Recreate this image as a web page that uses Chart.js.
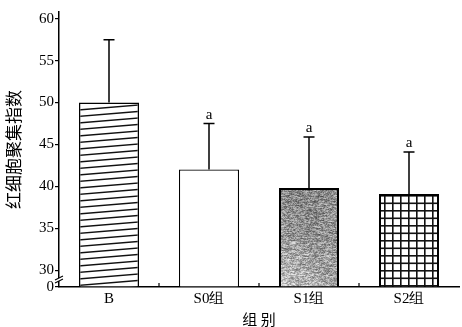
<!DOCTYPE html>
<html>
<head>
<meta charset="utf-8">
<script src="https://cdn.jsdelivr.net/npm/chart.js@4.4.1/dist/chart.umd.min.js"></script>
<style>
  html, body { margin: 0; padding: 0; background: #fff; }
  #wrap { width: 462px; height: 327px; }
</style>
</head>
<body>
<div id="wrap"><canvas id="c" width="462" height="327"></canvas></div>
<script>
// Groups and red-cell aggregation index (mean and upper error)
const groups = ['B', 'S0组', 'S1组', 'S2组'];
const meanValues = [50.0, 42.0, 39.8, 39.1];
const errorTops = [57.5, 47.5, 45.9, 44.1];
const markers = ['', 'a', 'a', 'a'];

// Broken y axis: the bottom tick stands for 0, the rest run 30..60
const yTickValues = [28, 30, 35, 40, 45, 50, 55, 60];
const yTickLabels = ['0', '30', '35', '40', '45', '50', '55', '60'];
const Y_MIN = 28;
const Y_MAX = 60.8;

const serif = '"Liberation Serif", "DejaVu Serif", serif';
const cjk = '"Noto Sans CJK SC", sans-serif';

// ---- fill patterns ----
function hatchPattern() {
  const c = document.createElement('canvas');
  c.width = 72; c.height = 13;
  const g = c.getContext('2d');
  g.fillStyle = '#fff'; g.fillRect(0, 0, 72, 13);
  g.strokeStyle = '#111'; g.lineWidth = 1.3;
  for (let k = -2; k <= 3; k++) {
    const y0 = 13 - k * 6.5;
    g.beginPath(); g.moveTo(0, y0); g.lineTo(72, y0 - 6); g.stroke();
  }
  return g.createPattern(c, 'repeat');
}

function gridPattern() {
  const c = document.createElement('canvas');
  c.width = 8; c.height = 15;
  const g = c.getContext('2d');
  g.fillStyle = '#fff'; g.fillRect(0, 0, 8, 15);
  g.fillStyle = '#111';
  g.fillRect(0, 0, 1.6, 15);
  g.fillRect(0, 0, 8, 1.6);
  g.fillRect(0, 7.5, 8, 1.6);
  return g.createPattern(c, 'repeat');
}

// grainy grey screen: mid grey, a little lighter towards the lower left
function stipplePattern() {
  const W = 462, H = 327;
  const c = document.createElement('canvas');
  c.width = W; c.height = H;
  const g = c.getContext('2d');
  const img = g.createImageData(W, H);
  let s = 12345;
  function rnd() { s = (s * 1103515245 + 12345) & 0x7fffffff; return s / 0x7fffffff; }
  let row = new Float32Array(W);
  for (let y = 0; y < H; y++) {
    const t = Math.min(1, Math.max(0, (y - 190) / 100));
    for (let x = 0; x < W; x++) {
      const lx = Math.min(1, Math.max(0, (x - 279) / 60));
      // streaky grain: blend with the pixel to the left
      const grain = (rnd() - 0.5) * 150;
      const prev = x > 0 ? row[x - 1] : grain;
      const n = 0.55 * grain + 0.45 * prev;
      row[x] = n;
      const base = 148 + 55 * t * t * (1 - 0.7 * lx) - 15 * Math.sin(lx * Math.PI) * (1 - t);
      const v = Math.max(20, Math.min(250, base + n));
      const i = (y * W + x) * 4;
      img.data[i] = img.data[i + 1] = img.data[i + 2] = v;
      img.data[i + 3] = 255;
    }
  }
  g.putImageData(img, 0, 0);
  return g.createPattern(c, 'repeat');
}

const fills = [hatchPattern(), '#ffffff', stipplePattern(), gridPattern()];

// ---- error whiskers, significance marks, axis break, inner x ticks ----
const decor = {
  id: 'decor',
  afterDatasetsDraw(chart) {
    const { ctx, scales: { x, y }, chartArea } = chart;
    ctx.save();
    ctx.strokeStyle = '#000';
    ctx.lineWidth = 1.5;
    groups.forEach((_, i) => {
      const px = x.getPixelForValue(i);
      const yTop = y.getPixelForValue(errorTops[i]);
      const yMean = y.getPixelForValue(meanValues[i]);
      ctx.beginPath();
      ctx.moveTo(px, yMean); ctx.lineTo(px, yTop);
      ctx.moveTo(px - 5.5, yTop); ctx.lineTo(px + 5.5, yTop);
      ctx.stroke();
      if (markers[i]) {
        ctx.fillStyle = '#000';
        ctx.font = '15px ' + serif;
        ctx.textAlign = 'center';
        ctx.textBaseline = 'alphabetic';
        ctx.fillText(markers[i], px, yTop - 5);
      }
    });
    // small upward ticks between categories
    ctx.lineWidth = 1.2;
    for (let i = 1; i < groups.length; i++) {
      const px = (x.getPixelForValue(i - 1) + x.getPixelForValue(i)) / 2;
      ctx.beginPath();
      ctx.moveTo(px, chartArea.bottom); ctx.lineTo(px, chartArea.bottom - 4);
      ctx.stroke();
    }
    // break marks on the y axis
    const ax = chartArea.left;
    const yb = chartArea.bottom - 7;
    ctx.fillStyle = '#fff';
    ctx.fillRect(ax - 2, yb - 2, 4, 3);
    ctx.lineWidth = 1.1;
    ctx.beginPath();
    ctx.moveTo(ax - 4, yb); ctx.lineTo(ax + 4, yb - 4);
    ctx.moveTo(ax - 4, yb + 3); ctx.lineTo(ax + 4, yb - 1);
    ctx.stroke();
    ctx.restore();
  }
};

new Chart(document.getElementById('c'), {
  type: 'bar',
  data: {
    labels: groups,
    datasets: [{
      data: meanValues,
      base: Y_MIN,
      backgroundColor: fills,
      borderColor: '#000',
      borderWidth: [1.5, 1.2, 2, 2],
      borderSkipped: 'bottom',
      barPercentage: 0.6,
      categoryPercentage: 1.0
    }]
  },
  options: {
    responsive: false,
    animation: false,
    devicePixelRatio: 1,
    layout: { padding: { top: 12, right: 3, left: 0, bottom: 0 } },
    plugins: { legend: { display: false }, tooltip: { enabled: false } },
    scales: {
      x: {
        grid: { display: false, drawTicks: false },
        border: { display: true, color: '#000', width: 1.5 },
        ticks: { color: '#000', font: { family: serif, size: 15 }, padding: 3, maxRotation: 0 },
        title: { display: true, text: '组 别', color: '#000', font: { family: cjk, size: 15 }, padding: { top: 0, bottom: -1 } },
        afterFit(s) { s.height = 40; }
      },
      y: {
        min: Y_MIN,
        max: Y_MAX,
        afterBuildTicks(s) { s.ticks = yTickValues.map(v => ({ value: v })); },
        grid: { drawOnChartArea: false, drawTicks: true, tickLength: 4, color: '#000', lineWidth: 1.2 },
        border: { display: true, color: '#000', width: 1.5 },
        ticks: {
          color: '#000', font: { family: serif, size: 15 }, padding: 1,
          callback(v) { const i = yTickValues.indexOf(v); return i >= 0 ? yTickLabels[i] : ''; }
        },
        title: { display: true, text: '红细胞聚集指数', color: '#000', font: { family: cjk, size: 17 }, padding: { top: 3, bottom: 0 } },
        afterFit(s) { s.width = 59; }
      }
    }
  },
  plugins: [decor]
});
</script>
</body>
</html>
